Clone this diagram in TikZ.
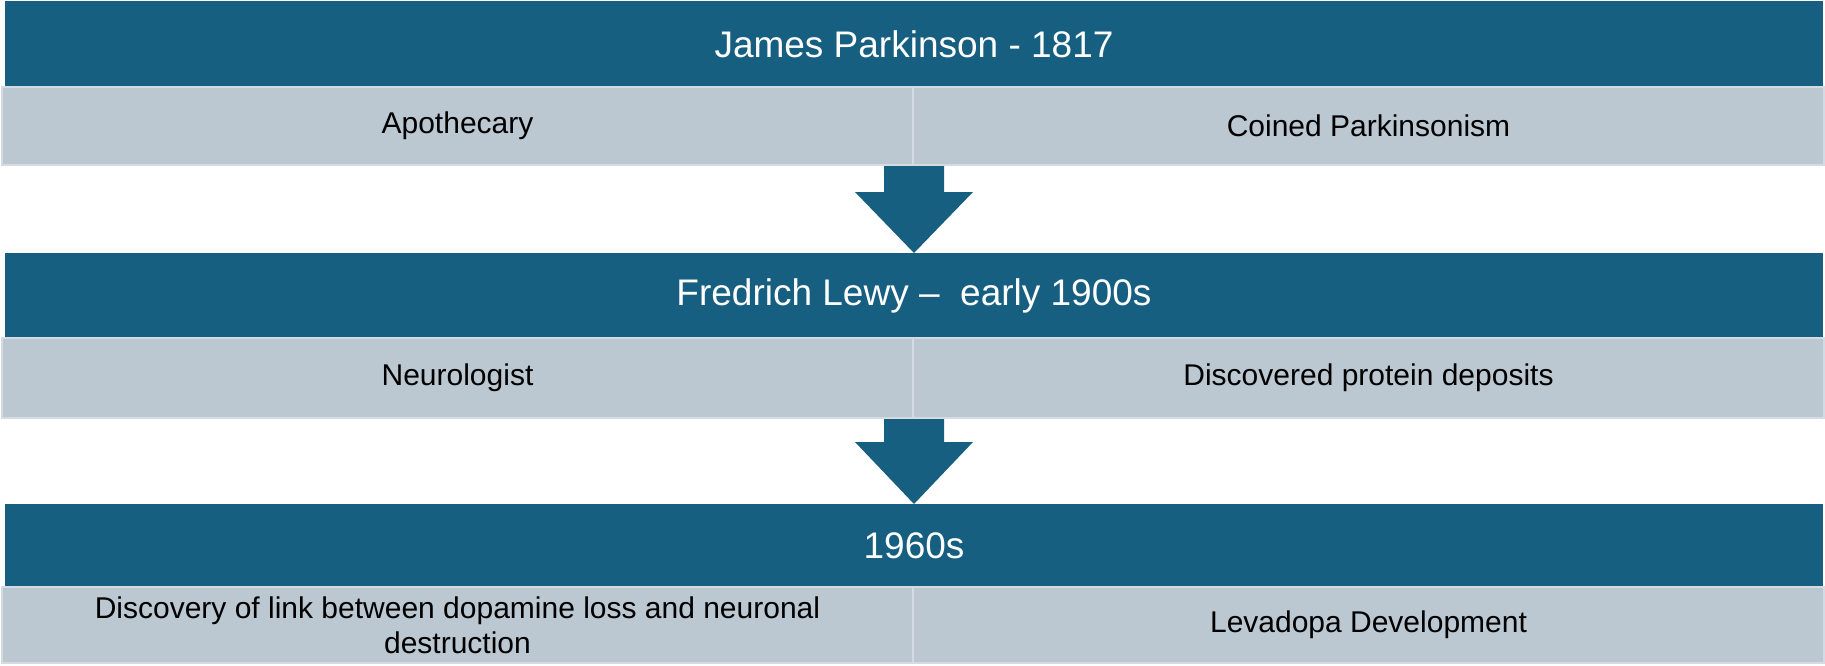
\documentclass[tikz,border=0pt]{standalone}
\usepackage{fontspec}
\setmainfont{Liberation Sans}
\usetikzlibrary{calc}
\definecolor{band}{RGB}{23,95,128}
\definecolor{cell}{RGB}{187,199,209}
\definecolor{cellline}{RGB}{212,219,226}
\tikzset{
  header/.style={fill=band, text=white, inner sep=0pt, outer sep=0pt, anchor=north west,
    minimum width=1818pt, font=\fontsize{37}{44}\selectfont},
  cellbox/.style={fill=cell, draw=cellline, line width=1.5pt, text=black, inner sep=0pt,
    outer sep=0pt, anchor=north west, align=center, font=\fontsize{30}{35}\selectfont},
  downarrow/.style={fill=band}
}
\begin{document}
\begin{tikzpicture}[x=1pt,y=-1pt]
\useasboundingbox (0,0) rectangle (1825,665);
% row 1
\node[header, minimum height=86pt] (h1) at (5,1) {James Parkinson - 1817};
\node[cellbox, minimum width=911pt, minimum height=78pt] (c1l) at (2,87) {Apothecary};
\node[cellbox, minimum width=911pt, minimum height=78pt] (c1r) at (913,87) {Coined Parkinsonism};
% row 2
\node[header, minimum height=85pt] (h2) at (5,253) {Fredrich Lewy --\ \ early 1900s};
\node[cellbox, minimum width=911pt, minimum height=80pt] (c2l) at (2,338) {Neurologist};
\node[cellbox, minimum width=911pt, minimum height=80pt] (c2r) at (913,338) {Discovered protein deposits};
% row 3
\node[header, minimum height=83pt] (h3) at (5,504) {1960s};
\node[cellbox, minimum width=911pt, minimum height=76pt] (c3l) at (2,587) {Discovery of link between dopamine loss and neuronal\\destruction};
\node[cellbox, minimum width=911pt, minimum height=76pt] (c3r) at (913,587) {Levadopa Development};
% arrows
\fill[downarrow] let \p1=(h2.north), \p2=(c1r.south west) in
  (\x1-30pt,\y2-1pt) -- (\x1+30pt,\y2-1pt) -- (\x1+30pt,\y1+61pt) -- (\x1+59pt,\y1+61pt)
  -- (\x1,\y1) -- (\x1-59pt,\y1+61pt) -- (\x1-30pt,\y1+61pt) -- cycle;
\fill[downarrow] let \p1=(h3.north), \p2=(c2r.south west) in
  (\x1-30pt,\y2-1pt) -- (\x1+30pt,\y2-1pt) -- (\x1+30pt,\y1+62pt) -- (\x1+59pt,\y1+62pt)
  -- (\x1,\y1) -- (\x1-59pt,\y1+62pt) -- (\x1-30pt,\y1+62pt) -- cycle;
\end{tikzpicture}
\end{document}
